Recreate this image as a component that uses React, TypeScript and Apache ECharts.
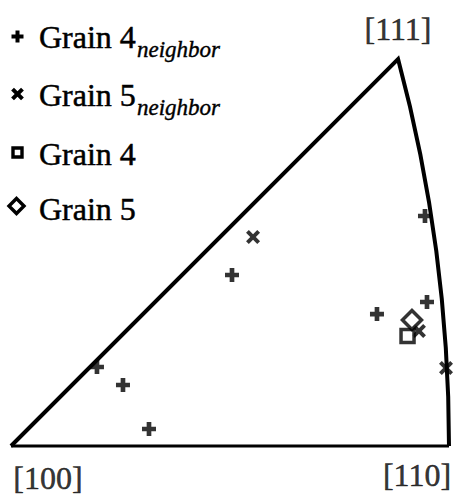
import React, { useEffect, useRef } from "react";
import * as echarts from "echarts";

// Corner directions of the standard stereographic triangle
const cornerNames = ["[100]", "[110]", "[111]"];
const cornerX = [0, 0.41421, 0.36603];
const cornerY = [0, 0, 0.36603];
const cornerLabelOffsets = [[37, 32], [-32, 29], [0, -30]];
// great circle [110]-[111]
const arcCenter = [-1, 0];

// legend entries: main text + subscript
const seriesNames = ["Grain 4 neighbor", "Grain 5 neighbor", "Grain 4", "Grain 5"];
const legendMain = ["Grain 4", "Grain 5", "Grain 4", "Grain 5"];
const legendSub = ["neighbor", "neighbor", "", ""];

const grain4NeighborX = [0.0813, 0.1059, 0.1305, 0.209, 0.3915, 0.3461, 0.3934];
const grain4NeighborY = [0.0747, 0.0577, 0.0161, 0.1617, 0.2175, 0.1248, 0.1362];
const grain5NeighborX = [0.2289, 0.4114, 0.3858];
const grain5NeighborY = [0.1977, 0.0738, 0.1088];
const grain4X = [0.375];
const grain4Y = [0.104];
const grain5X = [0.3792];
const grain5Y = [0.1192];

const PLUS = "path://M5,0H10V5H15V10H10V15H5V10H0V5H5Z";
const CROSS = "path://M0,3L3,0L7.5,4.5L12,0L15,3L10.5,7.5L15,12L12,15L7.5,10.5L3,15L0,12L4.5,7.5Z";
const FONT = "Liberation Serif";

const zip = (xs: number[], ys: number[]) => xs.map((x, i) => [x, ys[i]]);

function plusPoints(cx: number, cy: number, s: number, t: number, rot: number) {
  const pts = [
    [-t, -s], [t, -s], [t, -t], [s, -t], [s, t], [t, t],
    [t, s], [-t, s], [-t, t], [-s, t], [-s, -t], [-t, -t],
  ];
  const c = Math.cos(rot), sn = Math.sin(rot);
  return pts.map(([x, y]) => [cx + x * c - y * sn, cy + x * sn + y * c]);
}

export default function App() {
  const ref = useRef<HTMLDivElement>(null);
  useEffect(() => {
    if (!ref.current) return;
    const chart = echarts.init(ref.current, null, { renderer: "svg" });
    const markerStyle = { color: "#000" };
    const hollow = { color: "#fff", borderColor: "#000", borderWidth: 3.5 };
    const textCenters = [36.5, 95, 154, 209];
    const iconCenters = [36.5, 94, 152.5, 206];
    const ICON_X = 17.5;
    const legendIcons: any[] = [
      { type: "polygon", shape: { points: plusPoints(ICON_X, iconCenters[0], 6, 2, 0) }, style: { fill: "#000" } },
      { type: "polygon", shape: { points: plusPoints(ICON_X, iconCenters[1], 7, 2, Math.PI / 4) }, style: { fill: "#000" } },
      {
        type: "rect",
        shape: { x: ICON_X - 4.5, y: iconCenters[2] - 4.5, width: 9, height: 9 },
        style: { fill: "#fff", stroke: "#000", lineWidth: 3.4 },
      },
      {
        type: "polygon",
        shape: {
          points: [
            [ICON_X - 1, iconCenters[3] - 7.5],
            [ICON_X + 6.5, iconCenters[3]],
            [ICON_X - 1, iconCenters[3] + 7.5],
            [ICON_X - 8.5, iconCenters[3]],
          ],
        },
        style: { fill: "#fff", stroke: "#000", lineWidth: 3.4, lineJoin: "miter" },
      },
    ];
    const legendTexts: any[] = [];
    legendMain.forEach((t, i) => {
      legendTexts.push({
        type: "text",
        x: 39,
        y: textCenters[i],
        silent: true,
        style: {
          text: t,
          font: "32px 'Liberation Serif'",
          fill: "#000",
          stroke: "#000",
          lineWidth: 0.5,
          verticalAlign: "middle",
          align: "left",
        },
      });
      if (legendSub[i]) {
        legendTexts.push({
          type: "text",
          x: 137,
          y: textCenters[i] + 12.5,
          silent: true,
          style: {
            text: legendSub[i],
            font: "italic 23px 'Liberation Serif'",
            fill: "#000",
            stroke: "#000",
            lineWidth: 0.4,
            verticalAlign: "middle",
            align: "left",
          },
        });
      }
    });
    chart.setOption({
      animation: false,
      grid: { left: 11, right: 4, top: 59, bottom: 53 },
      xAxis: { type: "value", min: 0, max: 0.41421, show: false },
      yAxis: { type: "value", min: 0, max: 0.36603, show: false },
      graphic: [...legendIcons, ...legendTexts],
      series: [
        {
          type: "custom",
          name: "boundary",
          silent: true,
          clip: false,
          z: 1,
          data: [[0, 0]],
          renderItem: (params: any, api: any) => {
            const p0 = api.coord([cornerX[0], cornerY[0]]);
            const p1 = api.coord([cornerX[1], cornerY[1]]);
            const p2 = api.coord([cornerX[2], cornerY[2]]);
            const c = api.coord(arcCenter);
            const r = Math.hypot(p1[0] - c[0], p1[1] - c[1]);
            const d = `M${p0[0]} ${p0[1]} L${p2[0]} ${p2[1]} A${r} ${r} 0 0 1 ${p1[0]} ${p1[1]}`;
            return {
              type: "group",
              children: [
                {
                  type: "line",
                  shape: { x1: p0[0], y1: p0[1], x2: p1[0], y2: p1[1] },
                  style: { stroke: "#000", lineWidth: 3 },
                },
                {
                  type: "path",
                  shape: { pathData: d },
                  style: { stroke: "#000", fill: null, lineWidth: 4, lineJoin: "miter" },
                },
              ],
            };
          },
        },
        {
          type: "scatter",
          name: "corners",
          silent: true,
          symbolSize: 1,
          itemStyle: { color: "rgba(0,0,0,0)" },
          data: cornerNames.map((n, i) => ({
            name: n,
            value: [cornerX[i], cornerY[i]],
            label: { offset: cornerLabelOffsets[i] },
          })),
          label: {
            show: true,
            position: "inside",
            formatter: "{b}",
            fontFamily: FONT,
            color: "#000",
            fontSize: 32,
            textBorderColor: "#000",
            textBorderWidth: 0.5,
          },
        },
        {
          type: "scatter",
          name: seriesNames[0],
          symbol: PLUS,
          symbolSize: 14,
          itemStyle: markerStyle,
          data: zip(grain4NeighborX, grain4NeighborY),
          z: 3,
        },
        {
          type: "scatter",
          name: seriesNames[1],
          symbol: CROSS,
          symbolSize: 14,
          itemStyle: markerStyle,
          data: zip(grain5NeighborX, grain5NeighborY),
          z: 3,
        },
        {
          type: "scatter",
          name: seriesNames[2],
          symbol: "rect",
          symbolSize: 13,
          itemStyle: hollow,
          data: zip(grain4X, grain4Y),
          z: 3,
        },
        {
          type: "scatter",
          name: seriesNames[3],
          symbol: "diamond",
          symbolSize: 19,
          itemStyle: hollow,
          data: zip(grain5X, grain5Y),
          z: 3,
        },
      ],
    });
    return () => chart.dispose();
  }, []);
  return (
    <div
      ref={ref}
      style={{ position: "fixed", left: 0, top: 0, width: 453, height: 499, background: "#fff" }}
    />
  );
}
